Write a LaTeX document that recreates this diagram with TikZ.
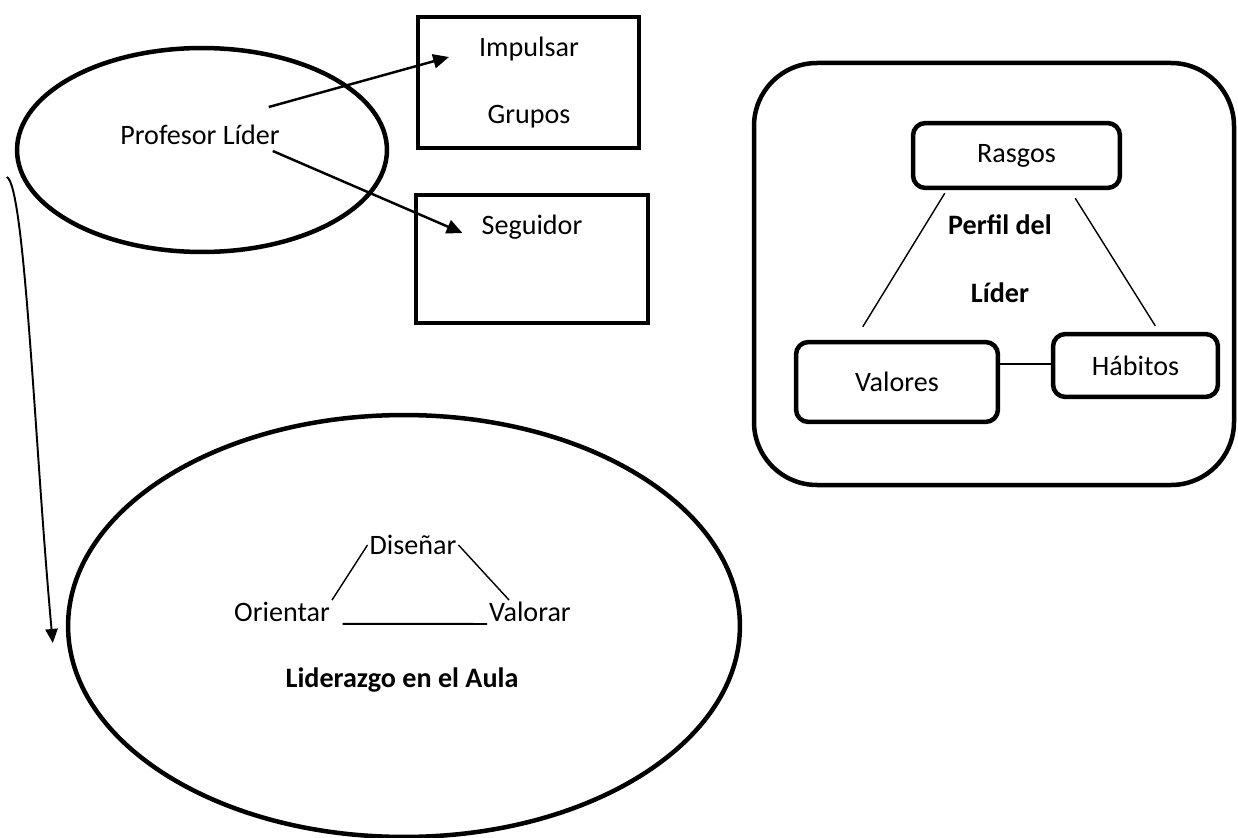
\documentclass[tikz,border=0pt]{standalone}
\usepackage{fontspec}
\setmainfont{Carlito}
\usetikzlibrary{shapes.geometric,arrows.meta,calc}

\tikzset{
  thickline/.style={line width=0.09cm},
  thinline/.style={line width=0.8pt},
  label/.style={font=\fontsize{16}{19}\selectfont, inner sep=1pt},
  boldlabel/.style={label, font=\fontsize{16}{19}\selectfont\bfseries},
  sqbox/.style={draw, thickline, rectangle},
  rbox/.style={draw, thickline, rectangle, rounded corners=0.25cm},
}

\begin{document}
\begin{tikzpicture}[x=0.02cm, y=-0.02cm]

    % Define the page size
    \useasboundingbox (0,0) rectangle (1238,838);

    % Draw the top ellipse and its label
    \node[draw, thickline, ellipse, minimum width=7.4cm, minimum height=4.08cm] (lider) at (202,150) {};
    \node[label] (prof) at (200,135) {Profesor Líder};

    % Draw the two square boxes
    \node[sqbox, minimum width=4.42cm, minimum height=2.62cm] (impbox) at (528.5,82.5) {};
    \node[label] (imp) at (529,49) {Impulsar};
    \node[label] (gru) at (529,117) {Grupos};
    \node[sqbox, minimum width=4.64cm, minimum height=2.56cm] (segbox) at (532,259) {};
    \node[label] (seg) at (532,227) {Seguidor};

    % Draw the arrows from the leader
    \draw[line width=1.4pt, -{Triangle[length=9pt, width=8pt]}]
        ([shift={(-13,-28)}]prof.east) -- ([shift={(-28,8)}]imp.west);
    \draw[line width=1.4pt, -{Triangle[length=9pt, width=8pt]}]
        ([shift={(-9,16)}]prof.east) -- ([shift={(-17,6)}]seg.west);

    % Draw the rounded frame on the right
    \draw[thickline, rounded corners=1.26cm] (754,63) rectangle (1234,485);

    % Draw the profile boxes
    \node[rbox, minimum width=4.14cm, minimum height=1.3cm, label] (ras) at (1016.5,155.5) {Rasgos};
    \node[rbox, minimum width=4.04cm, minimum height=1.6cm, label] (val) at (897,382) {Valores};
    \node[rbox, minimum width=3.3cm, minimum height=1.26cm, label] (hab) at (1135.5,365.5) {Hábitos};
    \node[boldlabel] (perfil) at (1000,225) {Perfil del};
    \node[boldlabel] (lid) at (1000,293) {Líder};

    % Draw the lines between the profile boxes
    \draw[thinline] ([shift={(34,3)}]ras.south west) -- ([shift={(69,-13)}]val.north west);
    \draw[thinline] ([shift={(-47,8)}]ras.south east) -- ([shift={(-65,-6)}]hab.north east);
    \draw[line width=1.1pt] ([shift={(0,-18)}]val.east) -- ([shift={(0,-1.5)}]hab.west);

    % Draw the bottom ellipse and its labels
    \node[draw, thickline, ellipse, minimum width=13.44cm, minimum height=8.44cm] (aula) at (404,626) {};
    \node[label] (dis) at (413,545) {Diseñar};
    \node[label] (ori) at (282,612) {Orientar};
    \node[label] (valo) at (530,612) {Valorar};
    \node[boldlabel] (lidaula) at (402,680) {Liderazgo en el Aula};

    % Draw the lines between the actions
    \draw[thinline] (dis.west) -- (ori.north east);
    \draw[thinline] (dis.east) -- ([xshift=12.5pt]valo.north west);
    \draw[line width=1.1pt] ([xshift=6pt]ori.south east) -- (valo.south west);

    % Draw the long arrow down the left side
    \draw[line width=1.1pt, -{Triangle[length=8pt, width=7pt]}]
        ([shift={(-8,27)}]lider.west) .. controls (25,185) and (35,450) .. ([shift={(-13,17)}]aula.west);

\end{tikzpicture}
\end{document}
